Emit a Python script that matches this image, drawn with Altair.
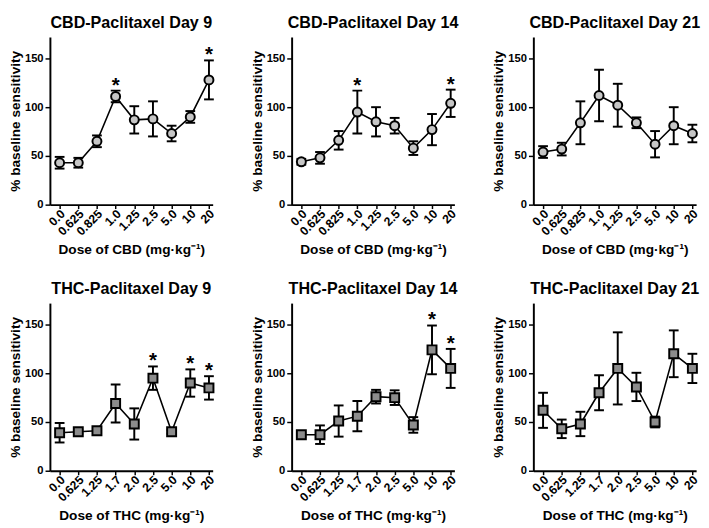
import altair as alt
import pandas as pd

FONT = "Liberation Sans"

cbd_doses = ["0.0", "0.625", "0.825", "1.0", "1.25", "2.5", "5.0", "10", "20"]
thc_doses = ["0.0", "0.625", "1.25", "1.7", "2.0", "2.5", "5.0", "10", "20"]

cbd_d9_mean = [43, 43, 65, 111, 87, 88, 73, 90, 128]
cbd_d9_sem = [6, 5, 6, 6, 14, 18, 8, 6, 20]
cbd_d9_sig = [0, 0, 0, 1, 0, 0, 0, 0, 1]

cbd_d14_mean = [44, 48, 66, 95, 85, 81, 58, 77, 104]
cbd_d14_sem = [3, 6, 9.5, 22, 15, 8, 7, 16, 14]
cbd_d14_sig = [0, 0, 0, 1, 0, 0, 0, 0, 1]

cbd_d21_mean = [54, 57, 84, 112, 102, 84, 62, 81, 73]
cbd_d21_sem = [6, 6.5, 22, 26.5, 22, 5.5, 13.5, 19, 9]
cbd_d21_sig = [0, 0, 0, 0, 0, 0, 0, 0, 0]

thc_d9_mean = [39, 40, 41, 69, 48, 95, 40, 90, 85]
thc_d9_sem = [10, 2, 2, 19.5, 16, 12, 2, 14, 12]
thc_d9_sig = [0, 0, 0, 0, 0, 1, 0, 1, 1]

thc_d14_mean = [37, 37, 51, 56, 76, 75, 47, 124, 105]
thc_d14_sem = [2, 9.5, 16, 15.5, 7, 7.5, 8, 25, 20]
thc_d14_sig = [0, 0, 0, 0, 0, 0, 0, 1, 1]

thc_d21_mean = [62, 43, 48, 80, 105, 86, 50, 120, 105]
thc_d21_sem = [18, 9.5, 12.5, 18, 37, 14.5, 5.5, 24, 15]
thc_d21_sig = [0, 0, 0, 0, 0, 0, 0, 0, 0]

W, H = 167, 172


def panel(title, doses, means, sems, sig, drug, shape, fill):
    df = pd.DataFrame({"i": list(range(len(doses))), "dose": doses,
                       "mean": means, "sem": sems, "sig": sig})
    df["lo"] = df["mean"] - df["sem"]
    df["hi"] = df["mean"] + df["sem"]
    labels = "[" + ",".join("'%s'" % d for d in doses) + "]"
    x = alt.X("i:Q",
              scale=alt.Scale(domain=[-0.52, 8.2], nice=False, zero=False),
              axis=alt.Axis(values=list(range(len(doses))),
                            labelExpr=labels + "[datum.value]",
                            title="Dose of %s (mg\u00b7kg\u207b\u00b9)" % drug,
                            labelAngle=315, labelAlign="right",
                            labelBaseline="middle", labelOverlap=False,
                            labelFontSize=12.5, labelOffset=3, labelPadding=3,
                            tickSize=4, titleFontSize=14, titlePadding=5,
                            grid=False))
    yscale = alt.Scale(domain=[0, 172], nice=False)
    y = alt.Y("mean:Q", scale=yscale,
              axis=alt.Axis(values=[0, 50, 100, 150],
                            title="% baseline sensitivity", grid=False,
                            labelFontSize=11.5, labelPadding=2, tickSize=5,
                            titleFontSize=14, titlePadding=2))
    base = alt.Chart(df).encode(x=x)
    line = base.mark_line(color="black", strokeWidth=1.6).encode(y=y)
    err = base.mark_rule(color="black", strokeWidth=2).encode(
        y=alt.Y("lo:Q", scale=yscale), y2="hi:Q")
    cap_hi = base.mark_tick(color="black", orient="horizontal", size=10,
                            thickness=2, opacity=1).encode(y=alt.Y("hi:Q", scale=yscale))
    cap_lo = base.mark_tick(color="black", orient="horizontal", size=10,
                            thickness=2, opacity=1).encode(y=alt.Y("lo:Q", scale=yscale))
    pts = base.mark_point(shape=shape, filled=True, fill=fill, stroke="black",
                          strokeWidth=2, size=85, opacity=1,
                          fillOpacity=1).encode(y=alt.Y("mean:Q", scale=yscale))
    stars = base.transform_filter("datum.sig == 1").mark_text(
        text="*", fontSize=21, fontWeight="bold", font=FONT,
        baseline="alphabetic", dy=1, color="black").encode(
        y=alt.Y("hi:Q", scale=yscale))
    return alt.layer(line, err, cap_hi, cap_lo, pts, stars).properties(
        width=W, height=H,
        title=alt.TitleParams(title, fontSize=16.5, fontWeight="bold",
                              font=FONT, anchor="middle", offset=6,
                              color="black"))


CBD_FILL = "#c6c6c6"
THC_FILL = "#8c8c8c"

row1 = alt.hconcat(
    panel("CBD-Paclitaxel Day 9", cbd_doses, cbd_d9_mean, cbd_d9_sem, cbd_d9_sig, "CBD", "circle", CBD_FILL),
    panel("CBD-Paclitaxel Day 14", cbd_doses, cbd_d14_mean, cbd_d14_sem, cbd_d14_sig, "CBD", "circle", CBD_FILL),
    panel("CBD-Paclitaxel Day 21", cbd_doses, cbd_d21_mean, cbd_d21_sem, cbd_d21_sig, "CBD", "circle", CBD_FILL),
    spacing=33)
row2 = alt.hconcat(
    panel("THC-Paclitaxel Day 9", thc_doses, thc_d9_mean, thc_d9_sem, thc_d9_sig, "THC", "square", THC_FILL),
    panel("THC-Paclitaxel Day 14", thc_doses, thc_d14_mean, thc_d14_sem, thc_d14_sig, "THC", "square", THC_FILL),
    panel("THC-Paclitaxel Day 21", thc_doses, thc_d21_mean, thc_d21_sem, thc_d21_sig, "THC", "square", THC_FILL),
    spacing=33)

chart = alt.vconcat(row1, row2, spacing=25).properties(
    padding={"left": 0, "top": 0, "right": 0, "bottom": 0}
).configure_view(stroke=None).configure_axis(
    domainColor="black", domainWidth=2, tickColor="black", tickWidth=1.5,
    labelFont=FONT, labelFontWeight="bold",
    labelColor="black", titleFont=FONT,
    titleFontWeight="bold", titleColor="black"
)

chart.save("out.html", embed_options={"renderer": "svg", "actions": False})
